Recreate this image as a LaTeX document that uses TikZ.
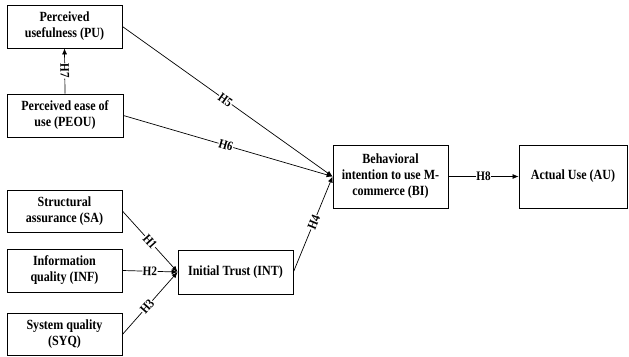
\documentclass[tikz,border=0pt]{standalone}
\usepackage{fontspec}
\setmainfont{Liberation Serif}[FakeStretch=0.86]
\usetikzlibrary{arrows.meta}
\begin{document}
\begin{tikzpicture}[x=1pt,y=-1pt,
  box/.style={draw,line width=0.8pt,align=center,inner sep=1pt,
    font=\fontsize{14}{16}\selectfont\bfseries},
  arr/.style={line width=0.7pt,-{Latex[length=6pt,width=5pt]}},
  lbl/.style={fill=white,inner sep=0.5pt,font=\fontsize{13}{15}\selectfont\bfseries,sloped}]
\useasboundingbox (0,0) rectangle (629,356);
\node[box,minimum width=115pt,minimum height=43pt] (PU) at (64.5,26.5) {Perceived\\usefulness (PU)};
\node[box,minimum width=116pt,minimum height=43pt] (PEOU) at (65,115.5) {Perceived ease of\\use (PEOU)};
\node[box,minimum width=115pt,minimum height=42pt] (SA) at (64.5,211) {Structural\\assurance (SA)};
\node[box,minimum width=115pt,minimum height=43pt] (INF) at (64.5,270.5) {Information\\quality (INF)};
\node[box,minimum width=115pt,minimum height=42pt] (SYQ) at (64.5,334.5) {System quality\\(SYQ)};
\node[box,minimum width=115pt,minimum height=44pt] (INT) at (235.5,272) {Initial Trust (INT)};
\node[box,minimum width=115pt,minimum height=63pt] (BI) at (390.5,176.5) {Behavioral\\intention to use M-\\commerce (BI)};
\node[box,minimum width=108pt,minimum height=63pt] (AU) at (573,176.5) {Actual Use (AU)};
\draw[arr] (PEOU.north) -- node[lbl,pos=0.5] {H7} (PU.south);
\draw[arr] (PU.east) -- node[lbl,pos=0.49] {H5} (BI.west);
\draw[arr] (PEOU.east) -- node[lbl,pos=0.49] {H6} (BI.west);
\draw[arr] (INT.east) -- node[lbl,pos=0.52] {H4} (BI.west);
\draw[arr] (SA.east) -- node[lbl,pos=0.5] {H1} (INT.west);
\draw[arr] (INF.east) -- node[lbl,pos=0.5] {H2} (INT.west);
\draw[arr] (SYQ.east) -- node[lbl,pos=0.45] {H3} (INT.west);
\draw[arr] (BI.east) -- node[lbl,pos=0.5] {H8} (AU.west);
\end{tikzpicture}
\end{document}
